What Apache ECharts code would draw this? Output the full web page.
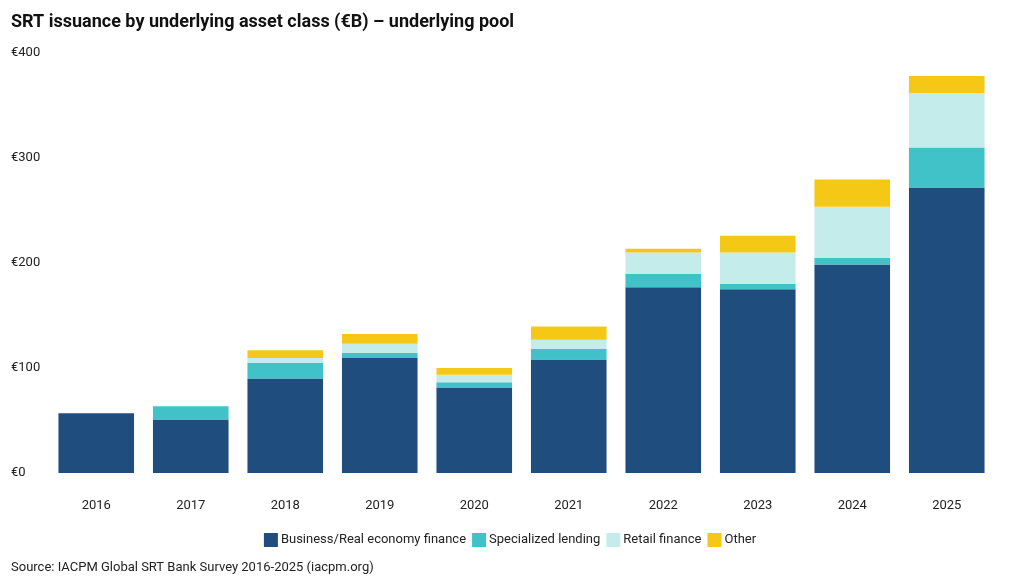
<!DOCTYPE html>
<html>
<head>
<meta charset="utf-8">
<script src="https://cdn.jsdelivr.net/npm/echarts@6/dist/echarts.min.js"></script>
<style>
  html, body { margin: 0; padding: 0; background: #fff; }
  #main { width: 1020px; height: 586px; }
</style>
</head>
<body>
<div id="main"></div>
<script>
var years = ['2016', '2017', '2018', '2019', '2020', '2021', '2022', '2023', '2024', '2025'];
var business = [57, 51, 90, 109.5, 81, 108, 177, 175, 198.5, 272];
var specialized = [0, 12.5, 15, 5, 5.5, 10, 12.5, 5, 6.5, 38];
var retail = [0, 0, 4.5, 8.5, 7, 9, 20.5, 30, 48.5, 52];
var other = [0, 0, 7.5, 9.5, 6.5, 12.5, 3.5, 16, 26, 16];
var yTicks = [0, 100, 200, 300, 400];

var chart = echarts.init(document.getElementById('main'));

function bar(name, data, color) {
    return {
        name: name,
        type: 'bar',
        stack: 'total',
        barCategoryGap: '20%',
        itemStyle: { color: color },
        data: data
    };
}

var option = {
    textStyle: { fontFamily: 'Roboto' },
    title: {
        text: 'SRT issuance by underlying asset class (€B) – underlying pool',
        left: 6,
        top: 8,
        textStyle: { fontSize: 18, fontWeight: 'bold', color: '#111' }
    },
    legend: {
        bottom: 34,
        left: 'center',
        icon: 'rect',
        itemWidth: 14,
        itemHeight: 14,
        itemGap: 6,
        textStyle: { fontSize: 13, color: '#222', padding: [0, 0, 0, -2] },
        data: ['Business/Real economy finance', 'Specialized lending', 'Retail finance', 'Other']
    },
    graphic: [{
        type: 'text',
        left: 11,
        top: 561,
        style: { text: 'Source: IACPM Global SRT Bank Survey 2016-2025 (iacpm.org)', fontSize: 13, fill: '#222', fontFamily: 'Roboto' }
    }],
    grid: { left: 49, right: 26, top: 53, bottom: 113 },
    xAxis: {
        type: 'category',
        data: years,
        axisLine: { show: false },
        axisTick: { show: false },
        axisLabel: { margin: 26, fontSize: 13, color: '#222' }
    },
    yAxis: {
        type: 'value',
        min: yTicks[0],
        max: yTicks[yTicks.length - 1],
        interval: 100,
        splitLine: { show: false },
        axisLabel: {
            align: 'left',
            margin: 38,
            fontSize: 13,
            color: '#222',
            formatter: function (v) { return '€' + v; }
        }
    },
    series: [
        bar('Business/Real economy finance', business, '#1f4e7e'),
        bar('Specialized lending', specialized, '#40c2c8'),
        bar('Retail finance', retail, '#c4ecea'),
        bar('Other', other, '#f5c816')
    ]
};
chart.setOption(option);
</script>
</body>
</html>
